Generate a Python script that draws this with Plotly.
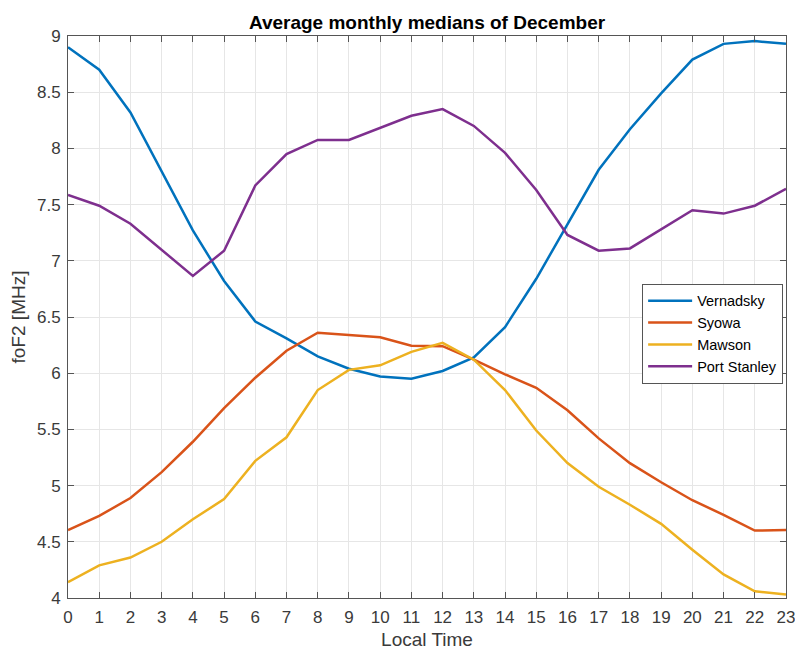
import plotly.graph_objects as go

hours = list(range(24))

vernadsky = [8.90, 8.70, 8.32, 7.80, 7.27, 6.82, 6.46, 6.31, 6.15, 6.04, 5.97, 5.95,
             6.02, 6.14, 6.41, 6.84, 7.32, 7.81, 8.17, 8.49, 8.79, 8.93, 8.955, 8.93]
syowa = [4.605, 4.73, 4.89, 5.12, 5.39, 5.69, 5.96, 6.20, 6.36, 6.34, 6.32, 6.245,
         6.24, 6.12, 5.99, 5.87, 5.67, 5.42, 5.20, 5.03, 4.87, 4.74, 4.60, 4.605]
mawson = [4.14, 4.29, 4.36, 4.50, 4.70, 4.88, 5.22, 5.43, 5.85, 6.03, 6.07, 6.19,
          6.27, 6.12, 5.85, 5.49, 5.20, 4.99, 4.83, 4.66, 4.43, 4.21, 4.06, 4.03]
port_stanley = [7.585, 7.49, 7.33, 7.10, 6.865, 7.09, 7.67, 7.95, 8.075, 8.075, 8.18, 8.29,
                8.35, 8.20, 7.96, 7.63, 7.23, 7.09, 7.11, 7.28, 7.45, 7.42, 7.49, 7.64]

series = [
    ("Vernadsky", vernadsky, "#0072BD"),
    ("Syowa", syowa, "#D95319"),
    ("Mawson", mawson, "#EDB120"),
    ("Port Stanley", port_stanley, "#7E2F8E"),
]

x_ticks = list(range(24))
y_ticks = [4, 4.5, 5, 5.5, 6, 6.5, 7, 7.5, 8, 8.5, 9]
y_tick_text = ["4", "4.5", "5", "5.5", "6", "6.5", "7", "7.5", "8", "8.5", "9"]

font_family = "Liberation Sans, Arial, sans-serif"
axis_color = "#555555"
text_color = "#3a3a3a"
grid_color = "#e6e6e6"

fig = go.Figure()
for name, vals, color in series:
    fig.add_trace(go.Scatter(x=hours, y=vals, mode="lines", name=name,
                             line=dict(color=color, width=2.5)))

axis_common = dict(
    showline=True, linecolor=axis_color, linewidth=1, mirror="ticks",
    ticks="inside", ticklen=6, tickcolor=axis_color, tickwidth=1,
    showgrid=True, gridcolor=grid_color, gridwidth=1, zeroline=False,
    automargin=False, ticklabeloverflow="allow",
    tickfont=dict(family=font_family, size=17, color=text_color),
)

fig.update_xaxes(range=[0, 23], tickvals=x_ticks, ticktext=[str(h) for h in x_ticks],
                 ticklabelstandoff=4,
                 title=dict(text="Local Time", standoff=8,
                            font=dict(family=font_family, size=19, color=text_color)),
                 **axis_common)
fig.update_yaxes(range=[4, 9], tickvals=y_ticks, ticktext=y_tick_text,
                 ticklabelstandoff=3,
                 title=dict(text="foF2 [MHz]", standoff=6,
                            font=dict(family=font_family, size=19, color=text_color)),
                 **axis_common)

fig.update_layout(
    width=795, height=650,
    margin=dict(l=68, r=9, t=36, b=52),
    paper_bgcolor="white", plot_bgcolor="white",
    title=dict(text="<b>Average monthly medians of December</b>",
               x=(68 + 786) / 2 / 795, xanchor="center", y=1 - 22 / 650, yanchor="middle",
               font=dict(family=font_family, size=19, color="#000000")),
    legend=dict(x=0.996, xanchor="right", y=0.559, yanchor="top",
                bgcolor="white", bordercolor=axis_color, borderwidth=1,
                font=dict(family=font_family, size=14.5, color="#000000"),
                tracegroupgap=0, itemwidth=44),
    showlegend=True,
)

fig.write_html("out.html")
